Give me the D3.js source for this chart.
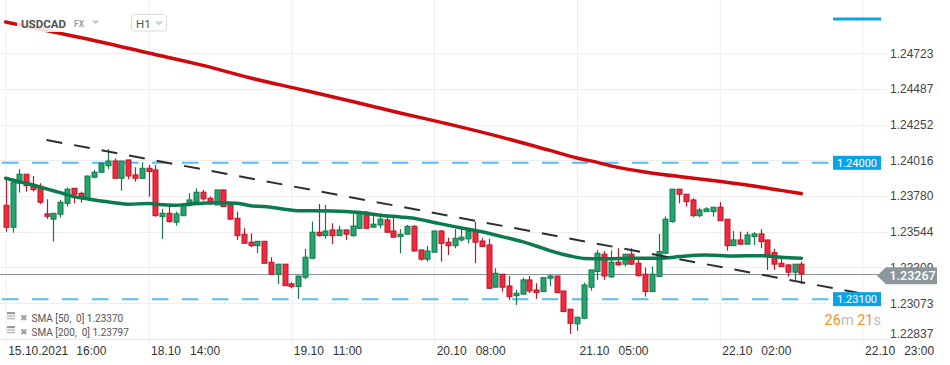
<!DOCTYPE html>
<html><head><meta charset="utf-8">
<script src="https://cdn.jsdelivr.net/npm/d3@7"></script>
<style>body{margin:0;background:#fff;} svg{display:block;font-family:Roboto,"Noto Sans",sans-serif;}</style>
</head><body><svg id="c" width="950" height="365"></svg>
<script>
// ---- data (H1 candles, 15.10.2021 16:00 -> 22.10 14:00) ----
const opens = [1.23720,1.23575,1.23865,1.23925,1.23849,1.23836,1.23663,1.23628,1.23661,1.23733,
1.23832,1.23799,1.23762,1.23905,1.23938,1.23981,1.24012,1.23898,1.24019,1.23920,
1.23898,1.23964,1.23953,1.23645,1.23667,1.23608,1.23651,1.23722,1.23744,1.23806,
1.23766,1.23722,1.23821,1.23722,1.23634,1.23529,1.23476,1.23453,1.23482,1.23344,
1.23265,1.23331,1.23201,1.23183,1.23245,1.23370,1.23542,1.23519,1.23557,1.23519,
1.23557,1.23519,1.23568,1.23674,1.23575,1.23590,1.23623,1.23550,1.23513,1.23529,
1.23581,1.23425,1.23364,1.23410,1.23550,1.23476,1.23453,1.23491,1.23498,1.23546,
1.23484,1.23458,1.23179,1.23265,1.23187,1.23123,1.23133,1.23227,1.23161,1.23150,
1.23238,1.23253,1.23154,1.23034,1.22937,1.22974,1.23179,1.23282,1.23397,1.23247,
1.23344,1.23331,1.23397,1.23337,1.23265,1.23150,1.23249,1.23403,1.23612,1.23826,
1.23793,1.23755,1.23651,1.23678,1.23678,1.23707,1.23628,1.23453,1.23491,1.23463,
1.23513,1.23531,1.23491,1.23407,1.23337,1.23326,1.23278,1.23331];
const highs = [1.23892,1.23887,1.23958,1.23927,1.23913,1.23865,1.23760,1.23669,1.23755,1.23836,
1.23833,1.23810,1.23914,1.23953,1.24001,1.24090,1.24030,1.24013,1.24020,1.23971,
1.24004,1.23986,1.23986,1.23696,1.23727,1.23678,1.23733,1.23799,1.23832,1.23821,
1.23777,1.23822,1.23822,1.23723,1.23678,1.23568,1.23535,1.23483,1.23483,1.23377,
1.23332,1.23332,1.23212,1.23254,1.23432,1.23612,1.23729,1.23722,1.23601,1.23585,
1.23558,1.23663,1.23678,1.23682,1.23667,1.23667,1.23641,1.23651,1.23562,1.23590,
1.23590,1.23426,1.23451,1.23551,1.23557,1.23506,1.23562,1.23562,1.23568,1.23612,
1.23502,1.23498,1.23304,1.23266,1.23253,1.23161,1.23242,1.23253,1.23205,1.23243,
1.23265,1.23254,1.23155,1.23034,1.22982,1.23209,1.23294,1.23425,1.23418,1.23422,
1.23436,1.23398,1.23436,1.23370,1.23308,1.23315,1.23531,1.23645,1.23827,1.23827,
1.23794,1.23766,1.23704,1.23707,1.23708,1.23740,1.23629,1.23550,1.23546,1.23546,
1.23542,1.23562,1.23492,1.23432,1.23370,1.23331,1.23332,1.23348];
const lows = [1.23546,1.23539,1.23803,1.23810,1.23810,1.23727,1.23630,1.23480,1.23638,1.23711,
1.23733,1.23737,1.23760,1.23898,1.23931,1.23958,1.23897,1.23816,1.23892,1.23876,
1.23894,1.23777,1.23645,1.23498,1.23605,1.23585,1.23650,1.23711,1.23743,1.23750,
1.23722,1.23721,1.23710,1.23623,1.23491,1.23468,1.23443,1.23403,1.23336,1.23260,
1.23201,1.23188,1.23172,1.23102,1.23232,1.23369,1.23513,1.23498,1.23463,1.23518,
1.23491,1.23513,1.23562,1.23567,1.23574,1.23568,1.23541,1.23508,1.23403,1.23528,
1.23414,1.23354,1.23348,1.23409,1.23348,1.23392,1.23436,1.23480,1.23469,1.23337,
1.23446,1.23166,1.23178,1.23150,1.23095,1.23062,1.23132,1.23139,1.23102,1.23149,
1.23187,1.23139,1.23017,1.22871,1.22892,1.22968,1.23156,1.23227,1.23227,1.23240,
1.23323,1.23315,1.23326,1.23249,1.23117,1.23146,1.23248,1.23402,1.23605,1.23733,
1.23711,1.23641,1.23641,1.23677,1.23645,1.23617,1.23420,1.23452,1.23458,1.23462,
1.23458,1.23436,1.23293,1.23293,1.23314,1.23249,1.23227,1.23199];
const closes = [1.23575,1.23872,1.23925,1.23849,1.23823,1.23740,1.23647,1.23667,1.23740,1.23826,
1.23793,1.23773,1.23913,1.23938,1.23997,1.24012,1.23898,1.24012,1.23913,1.23898,
1.23964,1.23942,1.23651,1.23667,1.23612,1.23663,1.23722,1.23755,1.23806,1.23762,
1.23740,1.23821,1.23711,1.23628,1.23519,1.23469,1.23453,1.23482,1.23337,1.23265,
1.23331,1.23189,1.23183,1.23253,1.23377,1.23542,1.23519,1.23550,1.23519,1.23557,
1.23529,1.23583,1.23667,1.23568,1.23595,1.23628,1.23542,1.23509,1.23529,1.23581,
1.23418,1.23364,1.23418,1.23550,1.23469,1.23453,1.23502,1.23509,1.23546,1.23476,
1.23447,1.23172,1.23271,1.23179,1.23117,1.23139,1.23227,1.23154,1.23143,1.23242,
1.23253,1.23143,1.23018,1.22941,1.22981,1.23194,1.23293,1.23403,1.23253,1.23344,
1.23326,1.23397,1.23331,1.23255,1.23150,1.23265,1.23414,1.23628,1.23826,1.23793,
1.23744,1.23651,1.23689,1.23696,1.23707,1.23618,1.23453,1.23491,1.23463,1.23524,
1.23531,1.23480,1.23392,1.23331,1.23315,1.23278,1.23331,1.23267];

const xTickIdx = [0,21,42,63,84,105,126];
const xTickDates = ["15.10.2021","18.10","19.10","20.10","21.10","22.10","22.10"];
const xTickTimes = ["16:00","14:00","11:00","08:00","05:00","02:00","23:00"];
const yTicks = [1.22837,1.23073,1.23309,1.23544,1.23780,1.24016,1.24252,1.24487,1.24723];

const sma50Idx = [0,2,4,6,8,10,12,14,16,18,21,23,25,27,29,31,34,36,38,41,43,45,48,50,53,55,58,60,62,64,66,68,71,73,76,78,80,83,85,88,90,94,97,99,103,107,111,114,117];
const sma50Val = [1.23898,1.23876,1.23854,1.23828,1.23803,1.23777,1.23762,1.23748,1.23737,1.23727,1.23731,1.23724,1.23720,1.23727,1.23733,1.23737,1.23733,1.23717,1.23711,1.23694,1.23684,1.23684,1.23682,1.23678,1.23667,1.23654,1.23643,1.23634,1.23616,1.23597,1.23579,1.23562,1.23535,1.23513,1.23480,1.23451,1.23420,1.23385,1.23369,1.23366,1.23368,1.23370,1.23372,1.23381,1.23392,1.23385,1.23387,1.23377,1.23370];
const sma200Idx = [0,7,14,21,29,36,43,51,58,65,73,80,84,87,90,94,99,104,109,114,117];
const sma200Val = [1.24930,1.24864,1.24798,1.24725,1.24643,1.24560,1.24488,1.24405,1.24329,1.24257,1.24168,1.24082,1.24032,1.24003,1.23970,1.23940,1.23910,1.23884,1.23854,1.23818,1.23797];

const trendIdx = [6,128.7];
const trendVal = [1.24151,1.23113];
const levels = [1.24000,1.23100];
const lastPrice = 1.23267;
const legendRows = [["SMA [50,  0]",1.23370],["SMA [200,  0]",1.23797]];

// ---- drawing ----
const svg = d3.select("#c");
const x = d3.scaleLinear().domain([0,126]).range([5.7,862.6]);
const y = d3.scaleLinear().domain([1.22837,1.24723]).range([339,53.3]);
const plotR = 881, plotB = 339;
const fmt = d3.format(".5f");

svg.append("defs").append("clipPath").attr("id","clip")
  .append("rect").attr("x",0).attr("y",0).attr("width",plotR).attr("height",plotB);

// horizontal gridlines via right axis
const yAx = svg.append("g").attr("transform",`translate(887,0)`)
  .call(d3.axisRight(y).tickValues(yTicks).tickFormat(fmt).tickSize(0).tickPadding(3));
yAx.select(".domain").remove();
yAx.selectAll("text").attr("fill","#444").style("font-size","12px").attr("x",3)
  .attr("dy", (d,i)=> i===0 ? "-0.1em" : "0.32em");
svg.insert("g",":first-child").selectAll("line").data(yTicks).join("line")
  .attr("x1",0).attr("x2",887).attr("y1",d=>Math.round(y(d))+0.5).attr("y2",d=>Math.round(y(d))+0.5)
  .attr("stroke","#eeeeee");

// bottom axis with vertical gridlines
const xAx = svg.insert("g",":first-child").attr("transform",`translate(0,${plotB})`)
  .call(d3.axisBottom(x).tickValues(xTickIdx).tickFormat(()=>"").tickSizeInner(-plotB).tickSizeOuter(0));
xAx.select(".domain").remove();
xAx.selectAll(".tick line").attr("stroke","#eeeeee").attr("y2",-plotB).attr("y1",6);
xAx.selectAll(".tick").each(function(d,i){
  const t = d3.select(this).append("text").attr("fill","#333").style("font-size","12px")
    .attr("text-anchor","start").attr("y",12).attr("dy","0.32em");
  t.append("tspan").attr("x",2).text(xTickDates[i]);
  t.append("tspan").attr("dx",9).text(xTickTimes[i]);
});
svg.append("line").attr("x1",0).attr("x2",887).attr("y1",plotB+0.5).attr("y2",plotB+0.5).attr("stroke","#e8e8e8");

const plot = svg.append("g").attr("clip-path","url(#clip)");

// level lines
plot.selectAll("line.lvl").data(levels).join("line").attr("class","lvl")
  .attr("x1",2).attr("x2",833).attr("y1",d=>y(d)).attr("y2",d=>y(d))
  .attr("stroke","#56bdf0").attr("stroke-width",2).attr("stroke-dasharray","16.5,13.5");

// last price line
plot.append("line").attr("x1",0).attr("x2",plotR).attr("y1",Math.round(y(lastPrice))+0.5).attr("y2",Math.round(y(lastPrice))+0.5)
  .attr("stroke","#8a9399").attr("stroke-width",1);

// candles
const idx = d3.range(opens.length);
const up = i => closes[i] >= opens[i];
const cg = plot.append("g");
cg.selectAll("line").data(idx).join("line")
  .attr("x1",i=>Math.round(x(i))+0.5).attr("x2",i=>Math.round(x(i))+0.5)
  .attr("y1",i=>y(highs[i])).attr("y2",i=>y(lows[i]))
  .attr("stroke",i=>up(i)?"#13794c":"#b8182b").attr("stroke-width",1.2);
cg.selectAll("rect").data(idx).join("rect")
  .attr("x",i=>Math.round(x(i))-2).attr("width",5)
  .attr("y",i=>Math.min(y(opens[i]),y(closes[i])))
  .attr("height",i=>Math.max(1.5,Math.abs(y(opens[i])-y(closes[i]))))
  .attr("fill",i=>up(i)?"#26a46d":"#f02a3c")
  .attr("stroke",i=>up(i)?"#13794c":"#b8182b").attr("stroke-width",1);

// SMA lines
const line = d3.line().x(d=>x(d[0])).y(d=>y(d[1])).curve(d3.curveMonotoneX);
plot.append("path").attr("d",line(d3.zip(sma200Idx,sma200Val)))
  .attr("fill","none").attr("stroke","#d0070b").attr("stroke-width",3.5).attr("stroke-linecap","round");
plot.append("path").attr("d",line(d3.zip(sma50Idx,sma50Val)))
  .attr("fill","none").attr("stroke","#0b7b4d").attr("stroke-width",3.5).attr("stroke-linecap","round");

// trendline
plot.append("path").attr("d",d3.line().x(d=>x(d[0])).y(d=>y(d[1]))(d3.zip(trendIdx,trendVal)))
  .attr("fill","none").attr("stroke","#2b2f33").attr("stroke-width",2).attr("stroke-dasharray","16,12");

// header
svg.append("rect").attr("x",17).attr("y",12).attr("width",88).attr("height",20).attr("fill","#fff").attr("opacity",0.85);
svg.append("text").attr("x",21).attr("y",27.5).text("USDCAD").attr("fill","#4d4f52")
  .style("font-size","11.5px").style("font-weight","700");
svg.append("text").attr("x",74).attr("y",27).text("FX").attr("fill","#94a3ad")
  .style("font-size","8.5px").style("font-weight","700");
svg.append("path").attr("d","M91.5,20.5 L99.5,20.5 L95.5,24.5 Z").attr("fill","#c9cdd0");
svg.append("rect").attr("x",131.5).attr("y",14.5).attr("width",35).attr("height",16.5).attr("rx",3)
  .attr("fill","#fff").attr("stroke","#dadada");
svg.append("text").attr("x",136).attr("y",27.5).text("H1").attr("fill","#555").style("font-size","11.5px");
svg.append("path").attr("d","M155,21.5 L163,21.5 L159,25.5 Z").attr("fill","#c9cdd0");

// top-right blue bar
svg.append("rect").attr("x",833).attr("y",17.5).attr("width",48).attr("height",3).attr("fill","#0ba3e7");

// level labels
levels.forEach(v=>{
  const yy = y(v);
  svg.append("rect").attr("x",833).attr("y",yy-7).attr("width",48).attr("height",14).attr("fill","#0ba3e7");
  svg.append("text").attr("x",857).attr("y",yy).attr("dy","0.35em").attr("text-anchor","middle")
    .attr("fill","#fff").style("font-size","11px").text(fmt(v));
});

// last price label
const ly = y(lastPrice)+2;
svg.append("path").attr("d",`M877,${ly} L886,${ly-8.5} L937,${ly-8.5} L937,${ly+8.5} L886,${ly+8.5} Z`).attr("fill","#8c969b");
svg.append("text").attr("x",889.5).attr("y",ly).attr("dy","0.36em").attr("fill","#fff")
  .style("font-size","12.5px").style("font-weight","500").text(fmt(lastPrice));

// countdown
const cd = svg.append("text").attr("x",881).attr("y",325).attr("text-anchor","end").style("font-size","14.5px");
cd.append("tspan").attr("fill","#f7931e").text("26");
cd.append("tspan").attr("fill","#bdbdbd").text("m ");
cd.append("tspan").attr("fill","#f7931e").text("21");
cd.append("tspan").attr("fill","#bdbdbd").text("s");

// legend
legendRows.forEach((r,i)=>{
  const yy = 318 + i*14;
  const g = svg.append("g");
  g.append("rect").attr("x",7).attr("y",yy-6).attr("width",8).attr("height",2.2).attr("fill","#9a9a9a");
  g.append("rect").attr("x",7).attr("y",yy-2.5).attr("width",8).attr("height",1.3).attr("fill","#b5b5b5");
  g.append("rect").attr("x",7).attr("y",yy).attr("width",8).attr("height",1.3).attr("fill","#b5b5b5");
  g.append("text").attr("x",20).attr("y",yy+0.5).attr("dy","0.32em").attr("fill","#9a9a9a")
    .style("font-size","9px").text("\u2716");
  g.append("text").attr("x",31.5).attr("y",yy+0.5).attr("dy","0.35em").attr("fill","#555")
    .style("font-size","10px").style("white-space","pre").text(r[0]+" "+fmt(r[1]));
});
</script></body></html>
